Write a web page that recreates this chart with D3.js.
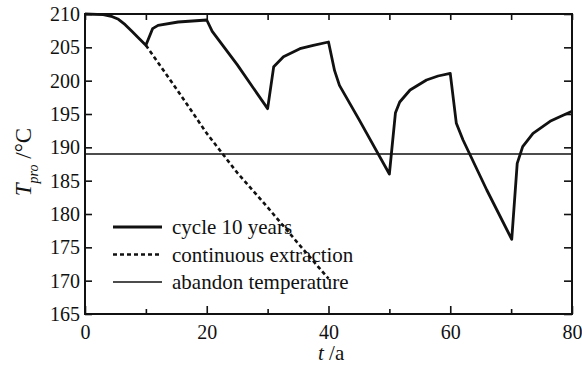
<html>
<head>
<script src="https://d3js.org/d3.v7.min.js"></script>
</head>
<body style="margin:0">
<script>
// cycle 10 years (t in a, T in degC)
var cycleT = [0, 3, 4.5, 5.5, 6.6, 7.7, 8.8, 10, 11.1, 12, 15.3, 20, 20.9, 25, 30, 31, 32.6, 35.3, 37.5, 40, 41, 41.8, 45, 50, 51, 51.7, 53.4, 56.1, 58, 60, 61, 62.1, 66, 70.1, 71, 71.9, 73.6, 76.4, 78, 80];
var cycleV = [210, 209.9, 209.6, 209.2, 208.4, 207.4, 206.4, 205.3, 207.8, 208.3, 208.8, 209.1, 207.4, 202.4, 195.8, 202.1, 203.6, 204.8, 205.3, 205.8, 201.5, 199.3, 194.2, 186.0, 195.2, 196.8, 198.6, 200.1, 200.7, 201.1, 193.6, 191.1, 183.6, 176.2, 187.6, 190.1, 192.1, 193.9, 194.6, 195.4];
// continuous extraction
var contT = [10, 15, 20, 25, 30, 35, 40];
var contV = [205.3, 198.8, 192.1, 186.2, 181.0, 175.6, 170.3];
var abandonV = 189;
var legendLabels = ["cycle 10 years", "continuous extraction", "abandon temperature"];
var xTicks = [0, 20, 40, 60, 80];
var xMinor = [10, 30, 50, 70];
var yTicks = [165, 170, 175, 180, 185, 190, 195, 200, 205, 210];

var FONT = "'Liberation Serif', monospace";
var W = 582, H = 366;
var m = { top: 14, right: 10, bottom: 52, left: 85 };
var w = W - m.left - m.right, h = H - m.top - m.bottom;

var svg = d3.select("body").append("svg").attr("width", W).attr("height", H);
var g = svg.append("g").attr("transform", "translate(" + m.left + "," + m.top + ")");

var x = d3.scaleLinear().domain([0, 80]).range([0, w]);
var y = d3.scaleLinear().domain([165, 210]).range([h, 0]);

// ticks (inward)
var tickStyle = function(sel) {
  sel.attr("font-family", null).attr("font-size", null);
  sel.select(".domain").remove();
  sel.selectAll("line").attr("stroke", "#111").attr("stroke-width", 1.6);
  sel.selectAll("text").attr("fill", "#111")
    .style("font-family", FONT).style("font-size", "20px");
};
g.append("g").attr("transform", "translate(0," + h + ")")
  .call(d3.axisBottom(x).tickValues(xTicks).tickSize(-8).tickPadding(11).tickFormat(d3.format("d")))
  .call(tickStyle);
g.append("g").attr("transform", "translate(0," + h + ")")
  .call(d3.axisBottom(x).tickValues(xMinor).tickSize(-5).tickFormat(""))
  .call(tickStyle);
g.append("g")
  .call(d3.axisTop(x).tickValues(xTicks.concat(xMinor)).tickSize(-6).tickFormat(""))
  .call(tickStyle);
g.append("g")
  .call(d3.axisLeft(y).tickValues(yTicks).tickSize(-7).tickPadding(5).tickFormat(d3.format("d")))
  .call(tickStyle);
g.append("g").attr("transform", "translate(" + w + ",0)")
  .call(d3.axisRight(y).tickValues(yTicks).tickSize(-8).tickFormat(""))
  .call(tickStyle);

// frame
g.append("rect").attr("width", w).attr("height", h)
  .attr("fill", "none").attr("stroke", "#111").attr("stroke-width", 2);

var line = d3.line().x(function(d) { return x(d[0]); }).y(function(d) { return y(d[1]); });

// abandon temperature
g.append("line").attr("x1", 0).attr("x2", w).attr("y1", y(abandonV)).attr("y2", y(abandonV))
  .attr("stroke", "#111").attr("stroke-width", 1.6);

// continuous extraction
g.append("path").datum(contT.map(function(t, i) { return [t, contV[i]]; }))
  .attr("d", line).attr("fill", "none").attr("stroke", "#111")
  .attr("stroke-width", 2.6).attr("stroke-dasharray", "4,3");

// cycle
g.append("path").datum(cycleT.map(function(t, i) { return [t, cycleV[i]]; }))
  .attr("d", line).attr("fill", "none").attr("stroke", "#111")
  .attr("stroke-width", 2.8).attr("stroke-linejoin", "round");

// legend
var styles = [
  { sw: 2.8, dash: null },
  { sw: 2.6, dash: "4,3" },
  { sw: 1.6, dash: null }
];
var leg = g.selectAll(".leg").data(legendLabels).enter().append("g")
  .attr("transform", function(d, i) { return "translate(28," + (213 + i * 27.5) + ")"; });
leg.append("line").attr("x1", 0).attr("x2", 49).attr("y1", 0).attr("y2", 0)
  .attr("stroke", "#111")
  .attr("stroke-width", function(d, i) { return styles[i].sw; })
  .attr("stroke-dasharray", function(d, i) { return styles[i].dash; });
leg.append("text").attr("x", 59).attr("y", 7).attr("fill", "#111")
  .style("font-family", FONT).style("font-size", "21px").text(function(d) { return d; });

// axis titles
var xl = svg.append("text").attr("x", 318).attr("y", 360).attr("fill", "#111")
  .style("font-family", FONT).style("font-size", "21px");
xl.append("tspan").style("font-style", "italic").text("t");
xl.append("tspan").text(" /a");

var yl = svg.append("text").attr("transform", "translate(31,162) rotate(-90)")
  .attr("text-anchor", "middle").attr("fill", "#111")
  .style("font-family", FONT).style("font-size", "23px");
yl.append("tspan").style("font-style", "italic").text("T");
yl.append("tspan").style("font-style", "italic").attr("dy", 7).style("font-size", "14px").text("pro");
yl.append("tspan").attr("dy", -7).text(" /°C");
</script>
</body>
</html>
